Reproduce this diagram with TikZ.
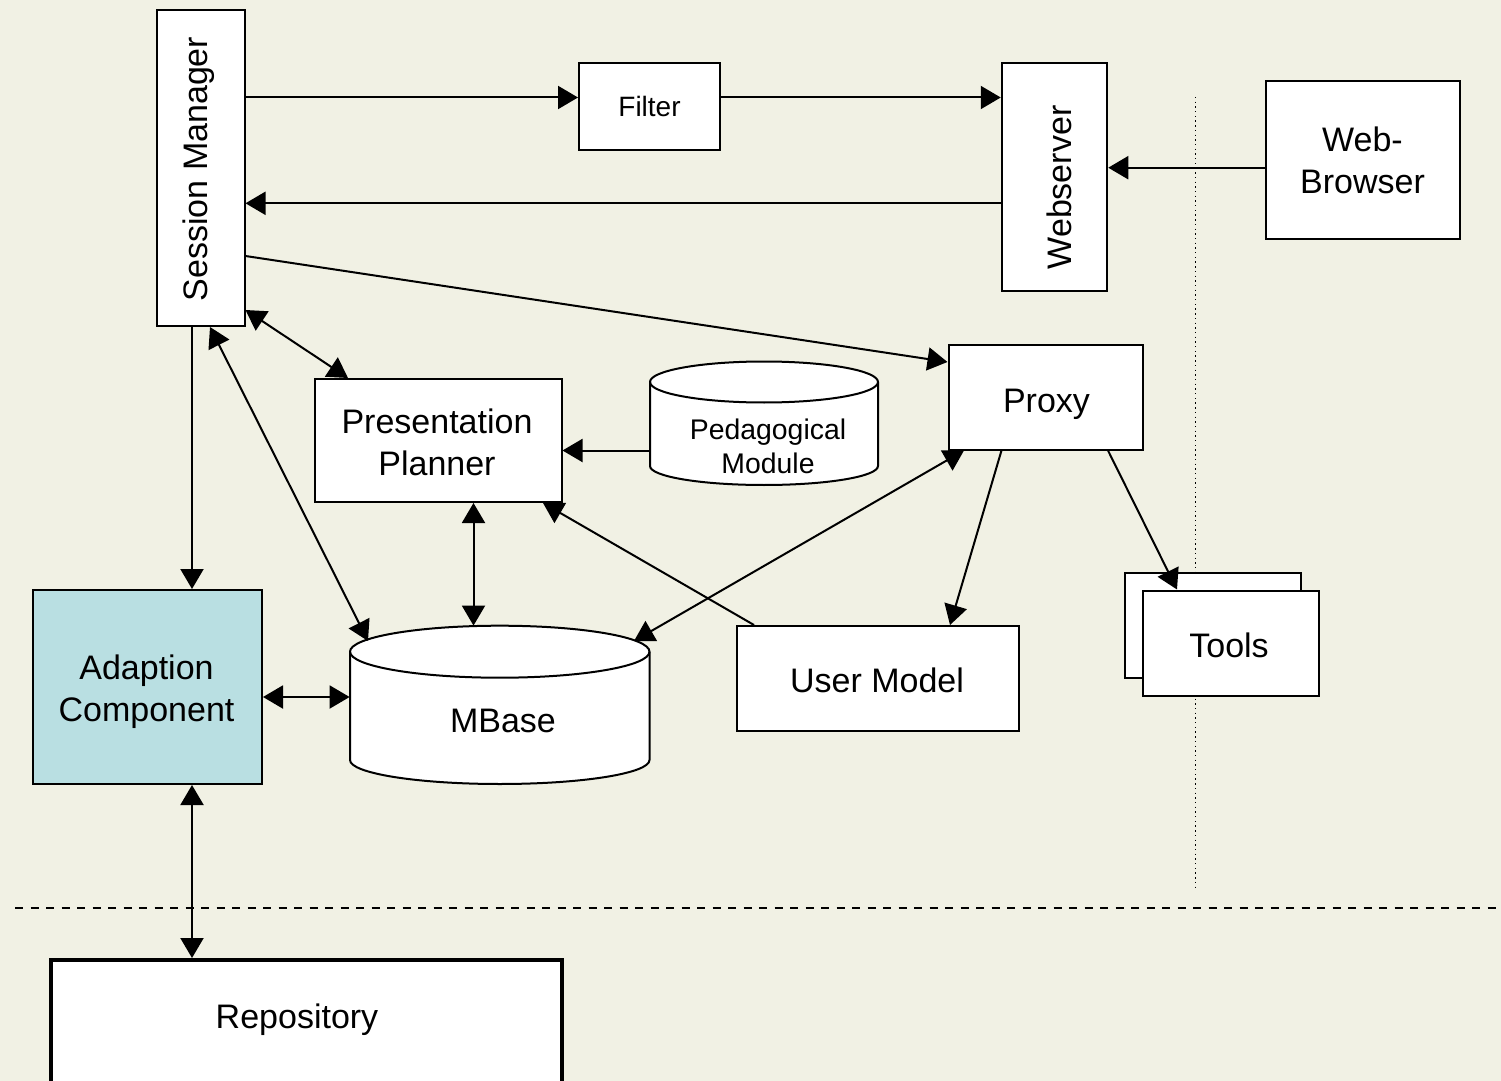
\documentclass[tikz,border=0pt]{standalone}
\usepackage{fontspec}
\setmainfont{Liberation Sans}
\usetikzlibrary{arrows.meta,calc}
\definecolor{bgc}{HTML}{F1F1E4}
\definecolor{acfill}{HTML}{B9DFE2}
\begin{document}
\begin{tikzpicture}[x=0.5pt,y=-0.5pt,
  box/.style={draw=black,line width=1pt,fill=white,inner sep=0pt,align=center,
    font=\fontsize{17}{21}\selectfont},
  lbl/.style={inner sep=0pt,align=center,font=\fontsize{17}{21}\selectfont},
  slbl/.style={inner sep=0pt,align=center,font=\fontsize{14.2}{17}\selectfont},
  arr/.style={line width=1pt,-{Triangle[length=10pt,width=11.5pt]}},
  darr/.style={line width=1pt,{Triangle[length=10pt,width=11.5pt]}-{Triangle[length=10pt,width=11.5pt]}},
  cyl/.style={draw=black,line width=1pt,fill=white}]
% background / bounding box
\fill[bgc] (0,0) rectangle (1501,1081);
\useasboundingbox (0,0) rectangle (1501,1081);

% separators
\draw[line width=1pt,dash pattern=on 4pt off 3.75pt] (15,908) coordinate (dl) -- (1501,908) coordinate (dr);
\draw[line width=0.8pt,dash pattern=on 0.7pt off 1.65pt] (1195.5,97) coordinate (vt) -- (1195.5,887) coordinate (vb);

% nodes
\node[box,minimum width=44pt,minimum height=158pt] (sm) at (200.5,168) {};
\node[lbl,rotate=90] (smt) at (199,169) {Session Manager};
\node[box,minimum width=70.5pt,minimum height=43.5pt,font=\fontsize{14}{17}\selectfont] (filter) at (649.5,106.5) {Filter};
\node[box,minimum width=52.75pt,minimum height=114pt] (ws) at (1054.5,177) {};
\node[lbl,rotate=90] (wst) at (1059,187.5) {Webserver};
\node[box,minimum width=97pt,minimum height=79pt] (wb) at (1362.5,160) {Web-\\Browser};
\node[box,minimum width=97pt,minimum height=52.5pt] (proxy) at (1045.5,397) {};
\node[lbl] (proxyt) at (1046.5,404) {Proxy};
\node[box,minimum width=123.5pt,minimum height=61.5pt] (pp) at (438,440.5) {};
\node[lbl] (ppt) at (437,442.5) {Presentation\\Planner};
\node[box,minimum width=141pt,minimum height=52.5pt] (um) at (878,678.5) {};
\node[lbl] (umt) at (877,680) {User Model};
\node[box,minimum width=88pt,minimum height=52.5pt] (toolsb) at (1213,625.5) {};
\node[box,minimum width=88pt,minimum height=52.5pt] (tools) at (1230.5,643) {};
\node[lbl] (toolst) at (1229,645) {Tools};
\node[box,fill=acfill,minimum width=114.5pt,minimum height=97pt] (ac) at (147.5,687) {};
\node[lbl] (act) at (146.5,692) {Adaption\\Component};
\node[box,line width=2pt,minimum width=255.5pt,minimum height=65pt] (repo) at (306.5,1025) {};
\node[lbl] (repot) at (297,1020) {Repository};

% cylinders
\path[cyl] (650,382) -- (650,466) arc[start angle=180,end angle=0,x radius=114,y radius=19] -- (878,382)
  arc[start angle=0,end angle=-180,x radius=114,y radius=20.5] -- cycle;
\draw[line width=1pt] (650,382) arc[start angle=180,end angle=0,x radius=114,y radius=20.5];
\node[inner sep=0pt,minimum width=114pt,minimum height=61.5pt] (ped) at (764,423.5) {};
\node[slbl] (pedt) at (768,446) {Pedagogical\\Module};

\path[cyl] (350,651.7) -- (350,760) arc[start angle=180,end angle=0,x radius=149.75,y radius=24] -- (649.5,651.7)
  arc[start angle=0,end angle=-180,x radius=149.75,y radius=26] -- cycle;
\draw[line width=1pt] (350,651.7) arc[start angle=180,end angle=0,x radius=149.75,y radius=26];
\node[inner sep=0pt,minimum width=149.75pt,minimum height=79pt] (mbase) at (499.75,705) {};
\node[lbl] (mbaset) at (503,721) {MBase};

% helper coordinates
\coordinate (y1) at (0,97.5);
\coordinate (y2) at (0,203.3);
\coordinate (y3) at (0,167.7);
\coordinate (y4) at (0,256);
\coordinate (y5) at (0,362);
\coordinate (y6) at (0,310);
\coordinate (y7) at (0,450.5);
\coordinate (y8) at (0,697);
\coordinate (x1) at (192,0);
\coordinate (x2) at (348,0);
\coordinate (x3) at (210,0);
\coordinate (x4) at (473.5,0);
\coordinate (x5) at (754,0);
\coordinate (x6) at (543,0);
\coordinate (x7) at (964,0);
\coordinate (x8) at (1001.5,0);
\coordinate (x9) at (950,0);
\coordinate (x10) at (1108,0);
\coordinate (x11) at (1177,0);
\coordinate (mb1) at (368,641);
\coordinate (mb2) at (634,641);

% connectors
\draw[arr] (sm.east |- y1) -- (filter.west |- y1);
\draw[arr] (filter.east |- y1) -- (ws.west |- y1);
\draw[arr] (ws.west |- y2) -- (sm.east |- y2);
\draw[arr] (wb.west |- y3) -- (ws.east |- y3);
\draw[arr] (sm.east |- y4) -- (proxy.west |- y5);
\draw[darr] (sm.east |- y6) -- (pp.north -| x2);
\draw[darr] (sm.south -| x3) -- (mb1);
\draw[arr] (sm.south -| x1) -- (ac.north -| x1);
\draw[arr] (ped.west |- y7) -- (pp.east |- y7);
\draw[darr] (pp.south -| x4) -- (mbase.north -| x4);
\draw[arr] (um.north -| x5) -- (pp.south -| x6);
\draw[darr] (proxy.south -| x7) -- (mb2);
\draw[arr] (proxy.south -| x8) -- (um.north -| x9);
\draw[arr] (proxy.south -| x10) -- (tools.north -| x11);
\draw[darr] (ac.east |- y8) -- (mbase.west |- y8);
\draw[darr] (ac.south -| x1) -- (repo.north -| x1);
\end{tikzpicture}
\end{document}
